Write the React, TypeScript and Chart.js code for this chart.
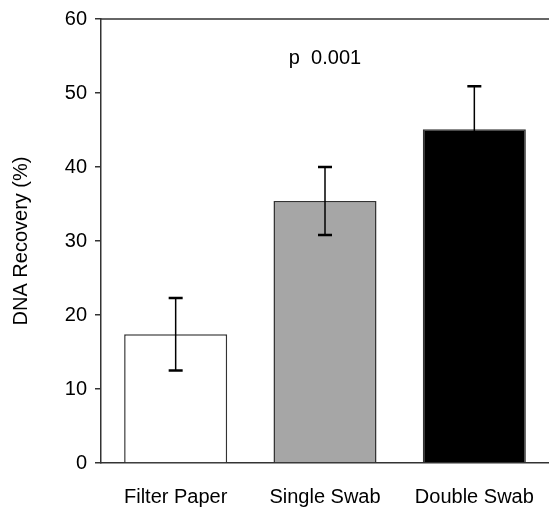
import React, { useEffect, useRef } from "react";
import { Chart, registerables } from "chart.js";

Chart.register(...registerables);

const categories = ["Filter Paper", "Single Swab", "Double Swab"];
const means = [17.4, 35.4, 45.1];
const errors = [4.9, 4.6, 5.8];
const barColors = ["#ffffff", "#a6a6a6", "#000000"];
const yTicks = [0, 10, 20, 30, 40, 50, 60];
const annotationText = "p  0.001";
const annotationValue = 54.6;
const annotationCategory = 1;

const FONT = "'Liberation Sans', Arial, Helvetica, sans-serif";
const FS = 20;

export default function App() {
  const ref = useRef<HTMLCanvasElement | null>(null);

  useEffect(() => {
    const canvas = ref.current;
    if (!canvas) return;

    const extras = {
      id: "extras",
      afterDatasetsDraw(chart: any) {
        const ctx = chart.ctx;
        const y = chart.scales.y;
        const area = chart.chartArea;
        const meta = chart.getDatasetMeta(0);
        ctx.save();
        meta.data.forEach((bar: any, i: number) => {
          const x = bar.x;
          const yTop = y.getPixelForValue(means[i] + errors[i]);
          const yBot = y.getPixelForValue(means[i] - errors[i]);
          ctx.strokeStyle = "#000";
          ctx.lineWidth = 1.5;
          ctx.beginPath();
          ctx.moveTo(x, yTop);
          ctx.lineTo(x, yBot);
          ctx.stroke();
          ctx.lineWidth = 2.5;
          ctx.beginPath();
          ctx.moveTo(x - 7, yTop);
          ctx.lineTo(x + 7, yTop);
          ctx.moveTo(x - 7, yBot);
          ctx.lineTo(x + 7, yBot);
          ctx.stroke();
        });
        ctx.strokeStyle = "#333";
        ctx.lineWidth = 1.5;
        ctx.beginPath();
        ctx.moveTo(area.left, area.top);
        ctx.lineTo(area.right, area.top);
        ctx.stroke();
        const ax = chart.scales.x.getPixelForValue(annotationCategory);
        const ay = y.getPixelForValue(annotationValue);
        ctx.fillStyle = "#000";
        ctx.font = `${FS}px ${FONT}`;
        ctx.textAlign = "center";
        ctx.textBaseline = "middle";
        ctx.fillText(annotationText, ax, ay);
        ctx.restore();
      },
    };

    const chart = new Chart(canvas, {
      type: "bar",
      data: {
        labels: categories,
        datasets: [
          {
            data: means,
            backgroundColor: barColors,
            borderColor: "#333",
            borderWidth: 1.5,
            categoryPercentage: 1,
            barPercentage: 0.69,
          },
        ],
      },
      options: {
        animation: false,
        responsive: false,
        events: [],
        layout: { padding: { top: 19, right: 0, bottom: 0, left: 0 } },
        plugins: {
          legend: { display: false },
          tooltip: { enabled: false },
        },
        scales: {
          x: {
            grid: { display: false, drawTicks: false },
            border: { display: true, color: "#333", width: 1.5 },
            ticks: {
              color: "#000",
              padding: 22,
              font: { family: FONT, size: FS },
            },
            afterFit(scale: any) {
              scale.height = 48;
              scale.paddingLeft = 0;
              scale.paddingRight = 0;
            },
          },
          y: {
            min: 0,
            max: 60,
            afterBuildTicks(scale: any) {
              scale.ticks = yTicks.map((v) => ({ value: v }));
            },
            grid: {
              display: true,
              drawOnChartArea: false,
              drawTicks: true,
              tickLength: 6,
              color: "#333",
              lineWidth: 1.5,
            },
            border: { display: true, color: "#333", width: 1.5 },
            ticks: {
              color: "#000",
              padding: 8,
              font: { family: FONT, size: FS },
            },
            title: {
              display: true,
              text: "DNA Recovery (%)",
              color: "#000",
              font: { family: FONT, size: FS },
              padding: { top: 9, bottom: 0 },
            },
            afterFit(scale: any) {
              scale.width = 101;
              scale.paddingTop = 0;
              scale.paddingBottom = 0;
            },
          },
        },
      },
      plugins: [extras],
    });

    return () => chart.destroy();
  }, []);

  return (
    <div style={{ position: "fixed", left: 0, top: 0, width: 549, height: 511, background: "#fff" }}>
      <canvas ref={ref} width={549} height={511} style={{ display: "block" }} />
    </div>
  );
}
